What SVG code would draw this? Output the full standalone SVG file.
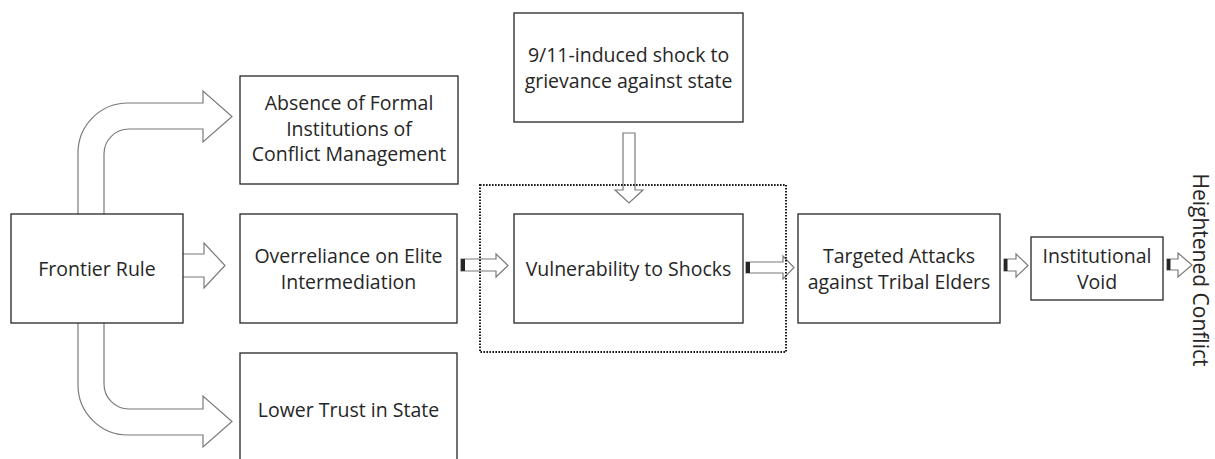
<svg xmlns="http://www.w3.org/2000/svg" width="1215" height="459" viewBox="0 0 1215 459">
<style>
.box{fill:#fff;stroke:#262626;stroke-width:1.3}
.arr{fill:#fff;stroke:#7a7a7a;stroke-width:1.2;stroke-linejoin:miter}
.tail{fill:#262626}
.t{font-family:"Open Sans","Noto Sans","Liberation Sans",sans-serif;font-size:19.5px;fill:#262626;text-anchor:middle}
.grp{fill:none;stroke:#1a1a1a;stroke-width:2;stroke-dasharray:1.6 1.4}
</style>
<rect width="1215" height="459" fill="#fff"/>
<g id="connectors">
<path class="arr" d="M78,214 V153 A50,50 0 0 1 128,103 H203 V91 L232,116.5 L203,142 V129 H129 A25,25 0 0 0 104,154 V214"/>
<path class="arr" d="M183,254 H204 V243 L225,265.5 L204,288 V277 H183"/>
<path class="arr" d="M104,323 V384 A25,25 0 0 0 129,409 H203 V396 L232,421.5 L203,447 V435 H128 A50,50 0 0 1 78,385 V323"/>
<path class="arr" d="M623,133 H635 V190 H643 L629,203 L615,190 H623 Z"/>
<path class="arr" d="M461,259 H496 V254 L508,265.5 L496,277 V271 H461 Z"/>
<rect class="tail" x="461" y="259" width="4" height="12"/>
<path class="arr" d="M746,262 H783 V256 L794,267.5 L783,279 V273 H746 Z"/>
<rect class="tail" x="746" y="262" width="4" height="11"/>
<path class="arr" d="M1004,259 H1016 V254 L1028,265.5 L1016,277 V271 H1004 Z"/>
<rect class="tail" x="1004" y="259" width="3.5" height="12"/>
<path class="arr" d="M1167,259 H1178 V253 L1192,265 L1178,277 V270 H1167 Z"/>
<rect class="tail" x="1167" y="259" width="3.5" height="11"/>
</g>
<g id="frontier-rule">
<rect class="box" x="11" y="214" width="172" height="109"/>
<text class="t" x="97" y="276">Frontier Rule</text>
</g>
<g id="absence">
<rect class="box" x="240" y="76" width="218" height="108"/>
<text class="t" x="349" y="110">Absence of Formal</text>
<text class="t" x="349" y="135.5">Institutions of</text>
<text class="t" x="349" y="161">Conflict Management</text>
</g>
<g id="overreliance">
<rect class="box" x="240" y="214" width="217" height="109"/>
<text class="t" x="348.5" y="263">Overreliance on Elite</text>
<text class="t" x="348.5" y="289">Intermediation</text>
</g>
<g id="lower-trust">
<rect class="box" x="240" y="353" width="217" height="120"/>
<text class="t" x="348.5" y="417">Lower Trust in State</text>
</g>
<g id="shock">
<rect class="box" x="514" y="13" width="229" height="109"/>
<text class="t" x="628.5" y="62">9/11-induced shock to</text>
<text class="t" x="628.5" y="88">grievance against state</text>
</g>
<g id="vulnerability">
<rect class="box" x="514" y="214" width="229" height="109"/>
<text class="t" x="628.5" y="276">Vulnerability to Shocks</text>
</g>
<g id="targeted-attacks">
<rect class="box" x="798" y="214" width="202" height="109"/>
<text class="t" x="899" y="263">Targeted Attacks</text>
<text class="t" x="899" y="289">against Tribal Elders</text>
</g>
<g id="institutional-void">
<rect class="box" x="1031" y="237" width="132" height="63"/>
<text class="t" x="1097" y="263">Institutional</text>
<text class="t" x="1097" y="289">Void</text>
</g>
<g id="heightened-conflict">
<text class="t" style="font-size:21px" transform="translate(1193,270) rotate(90)">Heightened Conflict</text>
</g>
<g id="vulnerability-group">
<rect class="grp" x="480" y="185" width="306" height="167"/>
</g>
</svg>
